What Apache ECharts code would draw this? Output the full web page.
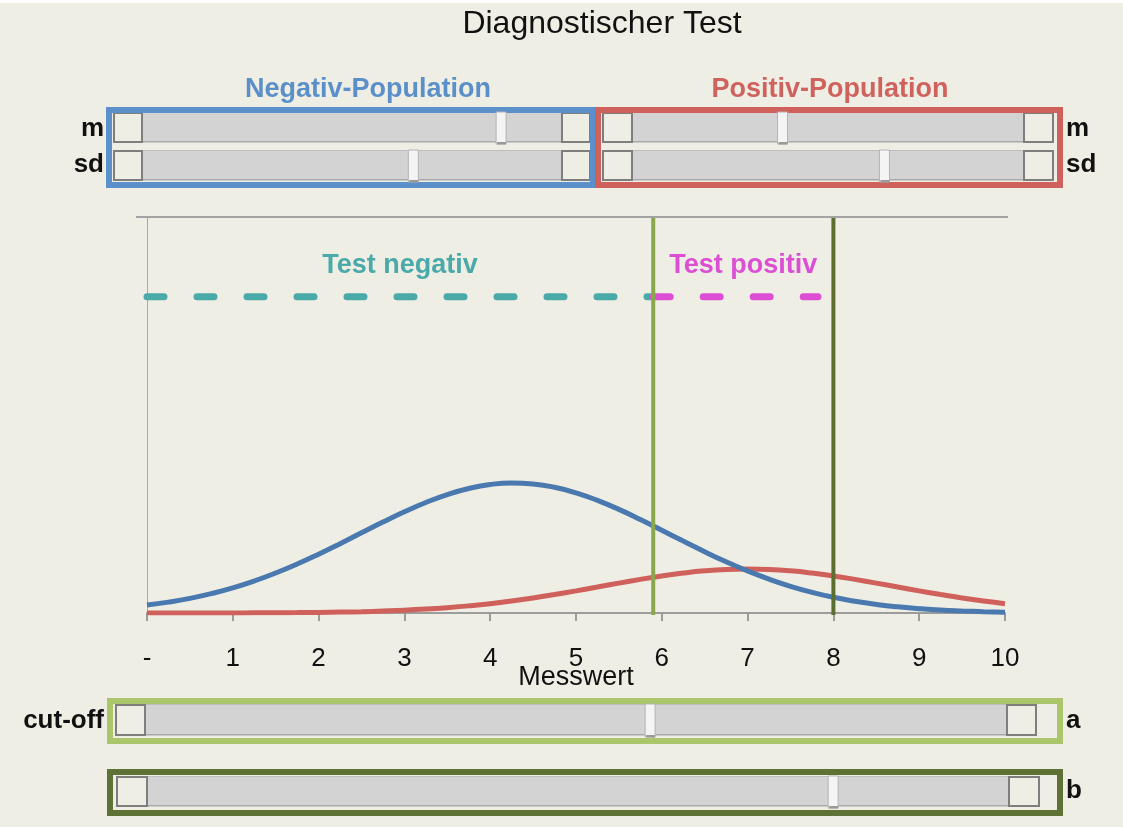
<!DOCTYPE html>
<html><head><meta charset="utf-8">
<script src="https://cdn.jsdelivr.net/npm/echarts@6/dist/echarts.min.js"></script>
<style>html,body{margin:0;padding:0;background:#efeee4}#c{width:1123px;height:827px}</style>
</head><body><div id="c"></div>
<script>
// ---- data ----
const messwert = [0,0.25,0.5,0.75,1,1.25,1.5,1.75,2,2.25,2.5,2.75,3,3.25,3.5,3.75,4,4.25,4.5,4.75,5,5.25,5.5,5.75,6,6.25,6.5,6.75,7,7.25,7.5,7.75,8,8.25,8.5,8.75,9,9.25,9.5,9.75,10];
const negativDichte = [0.0120,0.0165,0.0222,0.0294,0.0381,0.0485,0.0606,0.0742,0.0891,0.1050,0.1215,0.1378,0.1534,0.1675,0.1795,0.1887,0.1947,0.1970,0.1955,0.1905,0.1820,0.1706,0.1570,0.1417,0.1254,0.1090,0.0928,0.0776,0.0637,0.0513,0.0405,0.0314,0.0238,0.0178,0.0130,0.0093,0.0066,0.0045,0.0031,0.0020,0.0013];
const positivDichte = [0.0000,0.0000,0.0000,0.0001,0.0001,0.0002,0.0004,0.0006,0.0009,0.0014,0.0020,0.0030,0.0042,0.0059,0.0081,0.0108,0.0141,0.0181,0.0227,0.0279,0.0335,0.0393,0.0453,0.0509,0.0561,0.0605,0.0639,0.0660,0.0667,0.0660,0.0639,0.0605,0.0561,0.0509,0.0453,0.0393,0.0335,0.0279,0.0227,0.0181,0.0141];
const xTickLabels = ['-','1','2','3','4','5','6','7','8','9','10'];
const cutOffA = 5.9;
const cutOffB = 8.0;
const testLevel = 0.479;
const positivDashEnd = 7.82;
const labelLevel = 0.527;
// slider settings (fraction of track)
const negSlider = [0.855, 0.646];   // m, sd
const posSlider = [0.384, 0.644];   // m, sd

const BG = '#efeee4';
const FONT = '"Liberation Sans", Arial, sans-serif';
const chart = echarts.init(document.getElementById('c'), null, {renderer:'canvas'});

const pairs = (xs, ys) => xs.map((x,i)=>[x, ys[i]]);

chart.setOption({
  backgroundColor: BG,
  animation: false,
  grid: {left:147, right:118, top:217, bottom:214},
  xAxis: {
    type:'value', min:0, max:10, interval:1,
    axisLine:{show:true, onZero:false, lineStyle:{color:'#9c9c9c', width:2}},
    axisTick:{show:true, length:8, lineStyle:{color:'#9c9c9c', width:2}},
    axisLabel:{formatter:v=>xTickLabels[Math.round(v)], fontSize:26, color:'#111', margin:33, fontFamily:FONT, showMinLabel:true, showMaxLabel:true},
    splitLine:{show:false},
    name:'Messwert', nameLocation:'middle', nameGap:51, nameMoveOverlap:false,
    nameTextStyle:{fontSize:27, color:'#111', fontFamily:FONT}
  },
  yAxis: {
    type:'value', min:0, max:0.6,
    axisLine:{show:true, lineStyle:{color:'#a8a8a8', width:1}},
    axisTick:{show:false}, axisLabel:{show:false}, splitLine:{show:false}
  },
  series: [
    {type:'line', name:'Positiv-Population', data:pairs(messwert, positivDichte), smooth:true, showSymbol:false, symbol:'none',
     lineStyle:{color:'#cf605b', width:5}, z:2},
    {type:'line', name:'Negativ-Population', data:pairs(messwert, negativDichte), smooth:true, showSymbol:false, symbol:'none',
     lineStyle:{color:'#4a79b0', width:5}, z:3},
    {type:'line', name:'Test negativ', data:[[0,testLevel],[cutOffA,testLevel]], showSymbol:false, symbol:'none',
     lineStyle:{color:'#4aa9a9', width:7, type:[17,33], cap:'round'}, z:4},
    {type:'line', name:'Test positiv', data:[[cutOffA,testLevel],[positivDashEnd,testLevel]], showSymbol:false, symbol:'none',
     lineStyle:{color:'#dc4fd5', width:7, type:[17,33], cap:'round'}, z:4},
    {type:'line', name:'a', data:[[cutOffA,-0.005],[cutOffA,0.6]], showSymbol:false, symbol:'none',
     lineStyle:{color:'#89a84b', width:4}, z:5},
    {type:'line', name:'b', data:[[cutOffB,-0.005],[cutOffB,0.6]], showSymbol:false, symbol:'none',
     lineStyle:{color:'#5c6e2f', width:4}, z:5}
  ]
});

// ---- UI decoration (sliders, boxes, labels) ----
const g = [];
function txt(x,y,text,font,fill,align,va){
  g.push({type:'text', x, y, z:10, style:{text, font, fill, align:align||'center', verticalAlign:va||'middle'}});
}
function rect(x,y,w,h,style,z){ g.push({type:'rect', z:z||10, shape:{x,y,width:w,height:h}, style}); }
function box(x1,y1,x2,y2,color){ rect(x1+3,y1+3,x2-x1-6,y2-y1-6,{fill:'none',stroke:color,lineWidth:6}); }
function slider(x0,y0,h,btnW,trackR,frac){
  const tl = x0+btnW;
  rect(tl,y0,trackR-tl,h,{fill:'#d3d3d3'});
  rect(tl,y0+h-1,trackR-tl,1.5,{fill:'#a9a9a9'});
  rect(tl,y0,trackR-tl,1,{fill:'#bdbdbd'});
  rect(x0+1,y0+1,btnW-1,h-1,{fill:BG,stroke:'#7e7e7e',lineWidth:2});
  rect(trackR,y0+1,btnW-1,h-1,{fill:BG,stroke:'#7e7e7e',lineWidth:2});
  const cx = tl + frac*(trackR-tl);
  rect(cx-5,y0,10,h+2,{fill:'#f4f4f4',stroke:'#b3b3b3',lineWidth:1},11);
  rect(cx-4,y0+h,9,2.5,{fill:'#9a9a9a'},11);
}

// top white strip
rect(0,0,1123,3,{fill:'#ffffff'});
// title
txt(602,24,'Diagnostischer Test','32px '+FONT,'#111');
// population headers
txt(368,90,'Negativ-Population','bold 27px '+FONT,'#5b8fc9');
txt(830,90,'Positiv-Population','bold 27px '+FONT,'#d0625e');
// population sliders
slider(113,112,30,29,562,negSlider[0]);
slider(113,150,30,29,562,negSlider[1]);
slider(602,112,30,30,1024,posSlider[0]);
slider(602,150,30,30,1024,posSlider[1]);
box(106,107,596,188,'#5b90cb');
box(595,107,1063,188,'#d0605c');
txt(104,129,'m','bold 26px '+FONT,'#111','right');
txt(104,165,'sd','bold 26px '+FONT,'#111','right');
txt(1066,129,'m','bold 26px '+FONT,'#111','left');
txt(1066,165,'sd','bold 26px '+FONT,'#111','left');
// plot top border
g.push({type:'line', z:10, shape:{x1:136,y1:217,x2:1008,y2:217}, style:{stroke:'#a3a3a3',lineWidth:2}});
// test labels
const pNeg = chart.convertToPixel({gridIndex:0},[cutOffA/2, labelLevel]);
const pPos = chart.convertToPixel({gridIndex:0},[(cutOffA+cutOffB)/2, labelLevel]);
txt(pNeg[0],pNeg[1],'Test negativ','bold 27px '+FONT,'#4aa9a9');
txt(pPos[0],pPos[1],'Test positiv','bold 27px '+FONT,'#dc4fd5');
// cut-off sliders
slider(115,704,31,30,1007,cutOffA/10 - 0.004);
box(107,698,1063,744,'#aac56a');
txt(104,721,'cut-off','bold 26px '+FONT,'#111','right');
txt(1066,721,'a','bold 26px '+FONT,'#111','left');
slider(116,776,30,31,1009,cutOffB/10 - 0.004);
box(107,769,1063,816,'#5f7235');
txt(1066,791,'b','bold 26px '+FONT,'#111','left');

chart.setOption({graphic:{elements:g}});
</script>
</body></html>
